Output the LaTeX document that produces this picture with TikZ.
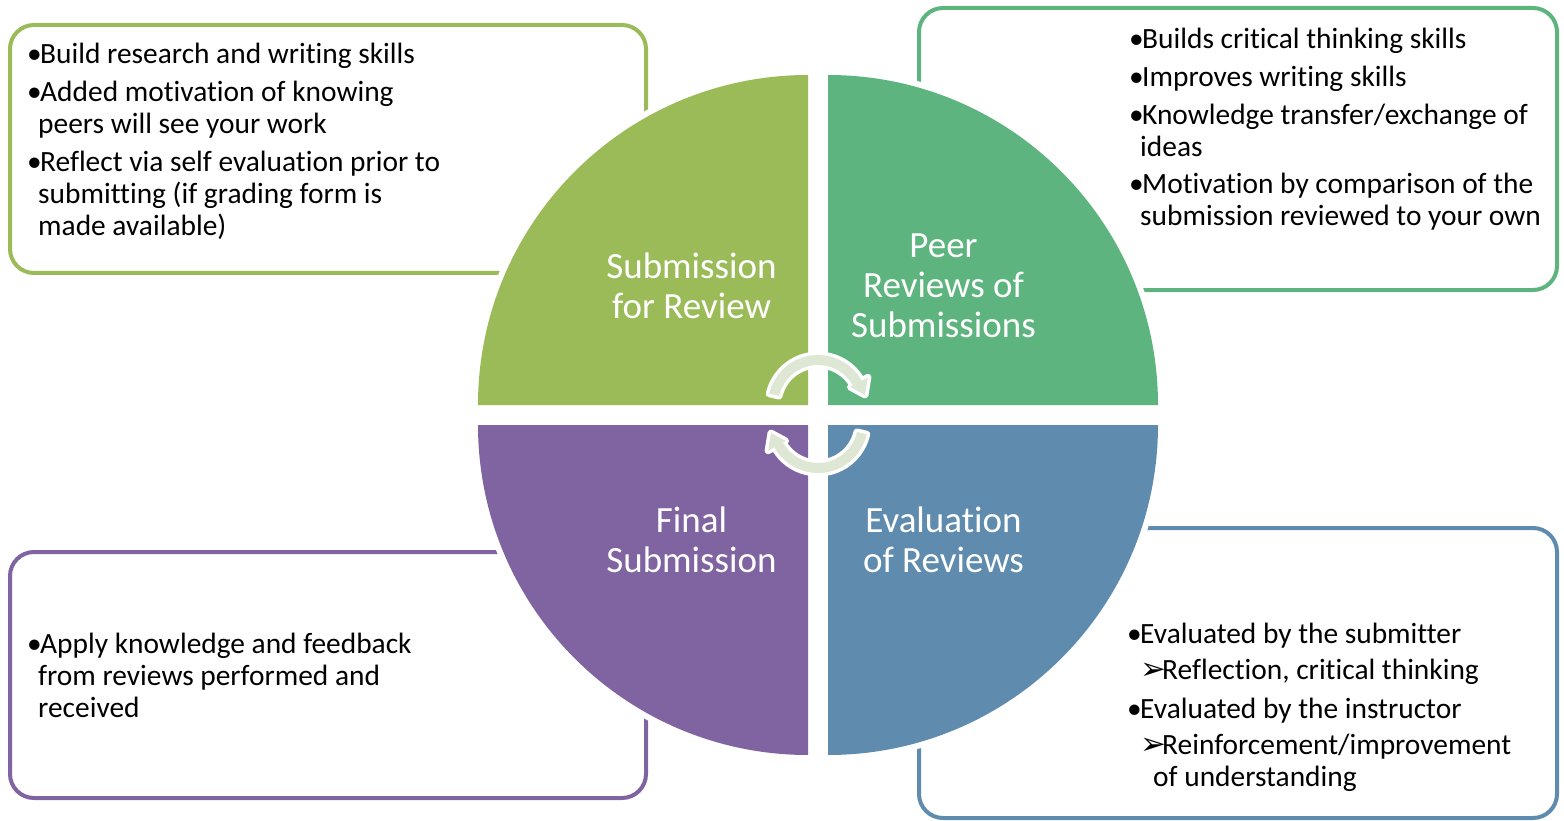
\documentclass[tikz,border=0pt]{standalone}
\usepackage{fontspec}
\setmainfont{Carlito}[Ligatures=NoCommon]
\newfontfamily\dejavu{DejaVu Sans}
\usetikzlibrary{calc}
\definecolor{cgreenA}{HTML}{9BBB59}
\definecolor{cgreenB}{HTML}{5DB47E}
\definecolor{cpurple}{HTML}{8064A2}
\definecolor{cblue}{HTML}{5F8CAE}
\definecolor{carrow}{HTML}{DDE7D3}
\newcommand{\blt}{\makebox[14pt][l]{\hspace*{1pt}•}}
\newcommand{\arr}{\makebox[22pt][l]{\dejavu\fontsize{31}{31}\selectfont ➢}}
\newcommand{\leftlines}[1]{\vtop{\halign{##\hfil\cr#1\crcr}}}
\newcommand{\centerlines}[1]{\vtop{\halign{\hfil##\hfil\cr#1\crcr}}}
\begin{document}
\begin{tikzpicture}[x=1pt,y=-1pt,
  infobox/.style={rounded corners=24pt, line width=4pt, fill=white},
  btxt/.style={anchor=base west, inner sep=0pt, font=\fontsize{29.4}{32}\selectfont},
  qlab/.style={anchor=base, inner sep=0pt, text=white, font=\fontsize{37}{40}\selectfont},
  halo/.style={draw=white, line width=12pt},
  cyc/.style={preaction={draw=white, line width=7pt, line join=round}, fill=carrow}
]
\useasboundingbox (0,0) rectangle (1564,821);

% information boxes
\draw[infobox, draw=cgreenA] (10,25) rectangle (646,273);
\draw[infobox, draw=cgreenB] (919,8) rectangle (1557,290);
\draw[infobox, draw=cpurple] (10,552) rectangle (646,798);
\draw[infobox, draw=cblue] (919,528) rectangle (1557,818);

% quadrants: white halo first
\draw[halo] (808,405) -- ++(-330,0) arc[start angle=180, end angle=270, radius=330] -- cycle;
\draw[halo] (828,405) -- ++(0,-330) arc[start angle=270, end angle=360, radius=330] -- cycle;
\draw[halo] (828,425) -- ++(330,0) arc[start angle=0, end angle=90, radius=330] -- cycle;
\draw[halo] (808,425) -- ++(0,330) arc[start angle=90, end angle=180, radius=330] -- cycle;
\fill[cgreenA] (808,405) -- ++(-330,0) arc[start angle=180, end angle=270, radius=330] -- cycle;
\fill[cgreenB] (828,405) -- ++(0,-330) arc[start angle=270, end angle=360, radius=330] -- cycle;
\fill[cblue] (828,425) -- ++(330,0) arc[start angle=0, end angle=90, radius=330] -- cycle;
\fill[cpurple] (808,425) -- ++(0,330) arc[start angle=90, end angle=180, radius=330] -- cycle;

% quadrant labels
\node[qlab] (qsub) at (691.5,278) {\centerlines{Submission\cr for Review}};
\node[qlab] (qpeer) at (943.5,258) {\centerlines{Peer\cr Reviews of\cr Submissions}};
\node[qlab] (qfinal) at (691.5,532) {\centerlines{Final\cr Submission}};
\node[qlab] (qeval) at (943.5,532) {\centerlines{Evaluation\cr of Reviews}};

% top-left box text
\node[btxt] (tl1) at (26,64) {\leftlines{\blt Build research and writing skills}};
\node[btxt] (tl2) at (26,102) {\leftlines{\blt Added motivation of knowing\cr\hspace*{12pt}peers will see your work}};
\node[btxt] (tl3) at (26,172) {\leftlines{\blt Reflect via self evaluation prior to\cr\hspace*{12pt}submitting (if grading form is\cr\hspace*{12pt}made available)}};

% top-right box text
\node[btxt] (tr1) at (1128,49) {\leftlines{\blt Builds critical thinking skills}};
\node[btxt] (tr2) at (1128,87) {\leftlines{\blt Improves writing skills}};
\node[btxt] (tr3) at (1128,125) {\leftlines{\blt Knowledge transfer/exchange of\cr\hspace*{12pt}ideas}};
\node[btxt] (tr4) at (1128,194) {\leftlines{\blt Motivation by comparison of the\cr\hspace*{12pt}submission reviewed to your own}};

% bottom-left box text
\node[btxt] (bl1) at (26,653) {\leftlines{\blt Apply knowledge and feedback\cr\hspace*{12pt}from reviews performed and\cr\hspace*{12pt}received}};

% bottom-right box text
\node[btxt] (br1) at (1126,643) {\leftlines{\blt Evaluated by the submitter}};
\node[btxt] (br2) at (1140,679) {\leftlines{\arr Reflection, critical thinking}};
\node[btxt] (br3) at (1126,718) {\leftlines{\blt Evaluated by the instructor}};
\node[btxt] (br4) at (1140,754) {\leftlines{\arr Reinforcement/improvement\cr\hspace*{13pt}of understanding}};

% cycle arrows
\coordinate (ct) at (818,405);
\coordinate (cb) at (818,423);
\path[cyc] ($(ct)+(193:50)$) arc[start angle=193, end angle=331, radius=50]
  -- ($(ct)+(331:57)$) -- ($(ct)+(331:46)+(61:14)$) -- ($(ct)+(331:37)$)
  -- ($(ct)+(331:40)$) arc[start angle=331, end angle=193, radius=40] -- cycle;
\path[cyc] ($(cb)+(13:50)$) arc[start angle=13, end angle=151, radius=50]
  -- ($(cb)+(151:57)$) -- ($(cb)+(151:46)+(241:14)$) -- ($(cb)+(151:37)$)
  -- ($(cb)+(151:40)$) arc[start angle=151, end angle=13, radius=40] -- cycle;
\end{tikzpicture}
\end{document}
